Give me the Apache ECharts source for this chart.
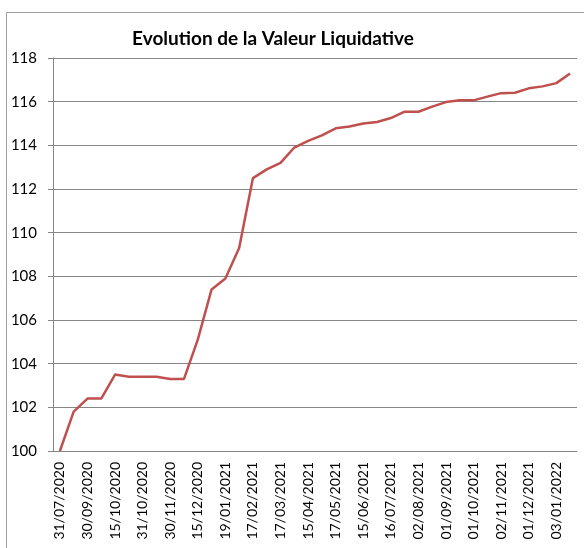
<!DOCTYPE html>
<html>
<head>
<meta charset="utf-8">
<script src="https://cdn.jsdelivr.net/npm/echarts@6/dist/echarts.min.js"></script>
<style>
  html, body { margin: 0; padding: 0; background: #fff; }
  #main { width: 584px; height: 548px; }
</style>
</head>
<body>
<div id="main"></div>
<script>
// dates (one label shown every other point)
var dates = [
  '31/07/2020', '31/08/2020', '30/09/2020', '07/10/2020', '15/10/2020', '23/10/2020',
  '31/10/2020', '13/11/2020', '30/11/2020', '04/12/2020', '15/12/2020', '31/12/2020',
  '19/01/2021', '02/02/2021', '17/02/2021', '03/03/2021', '17/03/2021', '31/03/2021',
  '15/04/2021', '30/04/2021', '17/05/2021', '31/05/2021', '15/06/2021', '30/06/2021',
  '16/07/2021', '23/07/2021', '02/08/2021', '16/08/2021', '01/09/2021', '15/09/2021',
  '01/10/2021', '15/10/2021', '02/11/2021', '15/11/2021', '01/12/2021', '15/12/2021',
  '03/01/2022', '17/01/2022'
];

// valeur liquidative
var values = [
  100.0, 101.8, 102.4, 102.4, 103.5, 103.4,
  103.4, 103.4, 103.3, 103.3, 105.1, 107.4,
  107.9, 109.3, 112.5, 112.9, 113.2, 113.9,
  114.2, 114.46, 114.78, 114.86, 115.0, 115.07,
  115.25, 115.54, 115.54, 115.77, 115.98, 116.06,
  116.06, 116.23, 116.39, 116.41, 116.61, 116.7,
  116.85, 117.29
];

var yTicks = { min: 100, max: 118, step: 2 };

var font = 'Lato, "Open Sans", sans-serif';
var myChart = echarts.init(document.getElementById('main'));
myChart.setOption({
  animation: false,
  title: {
    text: 'Evolution de la Valeur Liquidative',
    left: 268,
    top: 24,
    textAlign: 'center',
    textStyle: { fontFamily: font, fontSize: 19, fontWeight: 'bold', color: '#000' }
  },
  graphic: [{
    type: 'rect',
    shape: { x: 6.5, y: 12.5, width: 700, height: 700 },
    style: { fill: 'none', stroke: '#a0a0a0', lineWidth: 1 },
    silent: true
  }],
  grid: { left: 53, right: 7, top: 58, bottom: 97, containLabel: false },
  xAxis: {
    type: 'category',
    data: dates,
    boundaryGap: true,
    axisLine: { lineStyle: { color: '#868686' } },
    axisTick: { interval: 0, length: 5, lineStyle: { color: '#868686' } },
    axisLabel: {
      interval: 1,
      rotate: 90,
      margin: 11,
      color: '#000',
      fontFamily: font,
      fontSize: 14
    },
    splitLine: { show: false }
  },
  yAxis: {
    type: 'value',
    min: yTicks.min,
    max: yTicks.max,
    interval: yTicks.step,
    axisLine: { show: true, lineStyle: { color: '#868686' } },
    axisTick: { show: true, length: 5, lineStyle: { color: '#868686' } },
    axisLabel: { margin: 16, color: '#000', fontFamily: font, fontSize: 15 },
    splitLine: { lineStyle: { color: '#868686', width: 1 } }
  },
  series: [{
    type: 'line',
    data: values,
    symbol: 'none',
    lineStyle: { color: '#C0504D', width: 2.5 }
  }]
});
</script>
</body>
</html>
